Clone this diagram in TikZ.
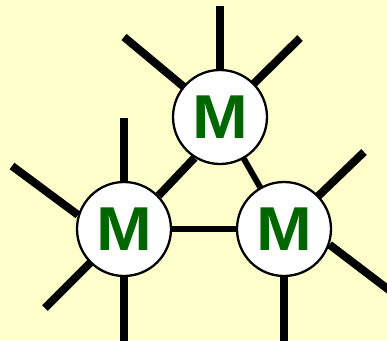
\documentclass[tikz,border=0pt]{standalone}
\usepackage{fontspec}
\setmainfont{Liberation Sans}
\definecolor{bgyellow}{HTML}{FFFFCC}
\definecolor{mgreen}{HTML}{006600}
\pgfdeclarelayer{bg}
\pgfdeclarelayer{edges}
\pgfsetlayers{bg,edges,main}
\begin{document}
\begin{tikzpicture}[x=1pt,y=-1pt,
  mnode/.style={circle,draw=black,line width=2.3pt,fill=white,minimum size=94pt,inner sep=0pt,
    font=\fontsize{62}{62}\selectfont\bfseries,text=mgreen},
  thick spoke/.style={line width=8pt,line cap=butt},
  thin link/.style={line width=6pt,line cap=butt}]
\useasboundingbox (0,0) rectangle (387,340);
\begin{pgfonlayer}{bg}
\fill[bgyellow] (0,0) rectangle (387,340);
\end{pgfonlayer}
\node[mnode] (T) at (220,117) {\scalebox{1.08}[1]{M}};
\node[mnode] (L) at (124,229) {\scalebox{1.08}[1]{M}};
\node[mnode] (R) at (284,229) {\scalebox{1.08}[1]{M}};
\coordinate (t1) at (220,6);
\coordinate (t2) at (124,37);
\coordinate (t3) at (300,38);
\coordinate (l1) at (124,118);
\coordinate (l2) at (12,166);
\coordinate (l3) at (45,308);
\coordinate (l4) at (124,345);
\coordinate (r1) at (364,152);
\coordinate (r2) at (393,293);
\coordinate (r3) at (284,345);
\begin{pgfonlayer}{edges}
\begin{scope}
\clip (0,0) rectangle (387,340);
\draw[thick spoke] (t1) -- (T.center);
\draw[thick spoke] (t2) -- (T.center);
\draw[thick spoke] (t3) -- (T.center);
\draw[thick spoke] (T.238) -- (L.44);
\draw[thin link] (T.center) -- (R.center);
\draw[thin link] (L.center) -- (R.center);
\draw[thick spoke] (l1) -- (L.center);
\draw[thick spoke] (l2) -- (L.163);
\draw[thick spoke] (l3) -- (L.center);
\draw[thick spoke] (l4) -- (L.center);
\draw[thick spoke] (r1) -- (R.center);
\draw[thick spoke] (r2) -- (R.-19);
\draw[thick spoke] (r3) -- (R.center);
\end{scope}
\end{pgfonlayer}
\end{tikzpicture}
\end{document}
